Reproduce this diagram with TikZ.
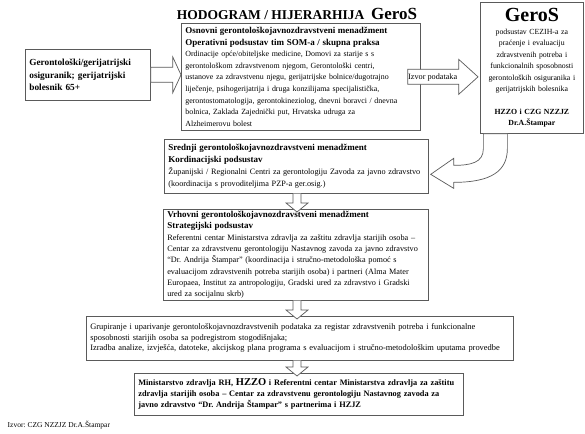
\documentclass[tikz,border=0pt]{standalone}
\usepackage{fontspec}
\setmainfont{Liberation Serif}
\usetikzlibrary{shapes,arrows,positioning,calc}
\definecolor{boxgray}{RGB}{90,90,90}
\newcommand\hodohead[1]{{\fontsize{9}{11}\selectfont\bfseries #1}}

\begin{document}
\frenchspacing
\begin{tikzpicture}[x=1pt, y=-1pt, thick, font=\fontsize{7.8}{11.5}\selectfont]
  \tikzstyle{box} = [rectangle, draw=boxgray, line width=0.7pt, anchor=north west, inner xsep=4pt, inner ysep=1pt, align=left]
  \tikzstyle{hollow} = [draw=boxgray, fill=white, line width=0.7pt]

  \useasboundingbox (0,0) rectangle (585,433);

  % title
  \node[anchor=base] (title) at (297,20) {\fontsize{13.5}{16}\selectfont\bfseries HODOGRAM / HIJERARHIJA\hspace{0.5em}{\fontsize{17}{18}\selectfont GeroS}};

  % patient
  \node[box, text width=117pt, minimum height=51pt, font=\fontsize{9.3}{12.2}\selectfont\bfseries] (pat) at (25,49)
    {Gerontološki/gerijatrijski\\ osiguranik; gerijatrijski\\ bolesnik 65+};

  % operative level
  \node[box, text width=231pt, minimum height=107pt, font=\fontsize{7.9}{11.6}\selectfont] (som) at (181,23)
    {\hodohead{Osnovni gerontološkojavnozdravstveni menadžment}\\
     \hodohead{Operativni podsustav tim SOM-a / skupna praksa}\\
     Ordinacije opće/obiteljske medicine, Domovi za starije s s\\
     gerontološkom zdravstvenom njegom, Gerontološki centri,\\
     ustanove za zdravstvenu njegu, gerijatrijske bolnice/dugotrajno\\
     liječenje, psihogerijatrija i druga konzilijama specijalistička,\\
     gerontostomatologija, gerontokineziolog, dnevni boravci / dnevna\\
     bolnica, Zaklada Zajednički put, Hrvatska udruga za\\
     Alzheimerovu bolest};

  % GeroS
  \node[box, align=center, text width=95pt, minimum height=131pt] (geros) at (480,2)
    {{\fontsize{20}{22}\selectfont\bfseries GeroS}\\[1pt]
     podsustav CEZIH-a za\\
     praćenje i evaluaciju\\
     zdravstvenih potreba i\\
     funkcionalnih sposobnosti\\
     gerontoloških osiguranika i\\
     gerijatrijskih bolesnika\\[11pt]
     \textbf{HZZO i CZG NZZJZ}\\
     \textbf{Dr.A.Štampar}};

  % coordination level
  \node[box, text width=256pt, minimum height=54pt, font=\fontsize{8.2}{12}\selectfont] (kord) at (164,139)
    {\hodohead{Srednji gerontološkojavnozdravstveni menadžment}\\
     \hodohead{Kordinacijski podsustav}\\
     Županijski / Regionalni Centri za gerontologiju Zavoda za javno zdravstvo\\
     (koordinacija s provoditeljima PZP-a ger.osig.)};

  % strategic level
  \node[box, text width=257pt, minimum height=91pt, font=\fontsize{8.2}{11.3}\selectfont] (strat) at (163,209)
    {\hodohead{Vrhovni gerontološkojavnozdravstveni menadžment}\\
     \hodohead{Strategijski podsustav}\\
     Referentni centar Ministarstva zdravlja za zaštitu zdravlja starijih osoba –\\
     Centar za zdravstvenu gerontologiju Nastavnog zavoda za javno zdravstvo\\
     “Dr. Andrija Štampar” (koordinacija i stručno-metodološka pomoć s\\
     evaluacijom zdravstvenih potreba starijih osoba) i partneri (Alma Mater\\
     Europaea, Institut za antropologiju, Gradski ured za zdravstvo i Gradski\\
     ured za socijalnu skrb)};

  % register
  \node[box, text width=419pt, minimum height=44pt, font=\fontsize{8.4}{10.5}\selectfont] (reg) at (86,316)
    {Grupiranje i uparivanje gerontološkojavnozdravstvenih podataka za registar zdravstvenih potreba i funkcionalne\\
     sposobnosti starijih osoba sa podregistrom stogodišnjaka;\\
     Izradba analize, izvješća, datoteke, akcijskog plana programa s evaluacijom i stručno-metodološkim uputama provedbe};

  % ministry
  \node[box, text width=321pt, minimum height=42pt, font=\fontsize{8.3}{11}\selectfont\bfseries] (mini) at (134,373)
    {Ministarstvo zdravlja RH, {\fontsize{10.5}{11}\selectfont HZZO} i Referentni centar Ministarstva zdravlja za zaštitu\\
     zdravlja starijih osoba – Centar za zdravstvenu gerontologiju Nastavnog zavoda za\\
     javno zdravstvo “Dr. Andrija Štampar” s partnerima i HZJZ};

  % source
  \node[anchor=west, font=\fontsize{7.5}{8}\selectfont] (izvor) at (4,425) {Izvor: CZG NZZJZ Dr.A.Štampar};

  \coordinate (axis) at (297,0);

  % patient -> operative
  \draw[hollow] ($(pat.east)+(0,-7.5)$) -- ++(22,0) -- ++(0,-10.5) -- (som.west |- pat.east)
    -- ($(pat.east)+(22,18)$) -- ++(0,-10.5) -- ($(pat.east)+(0,7.5)$) -- cycle;

  % data source
  \draw[hollow] ($(som.east)+(-13,-7.5)$) -- ($(som.east)+(38,-7.5)$) -- ($(som.east)+(38,-17.5)$)
    -- ($(geros.west |- som.east)+(-2,0)$) -- ($(som.east)+(38,17.5)$) -- ($(som.east)+(38,7.5)$)
    -- ($(som.east)+(-13,7.5)$) -- cycle;
  \node[font=\fontsize{8.2}{10}\selectfont] (podaci) at ($(som.east)+(12,0.5)$) {Izvor podataka};

  % GeroS -> coordination
  \draw[hollow] ($(geros.south)+(-48.5,0)$) -- ++(0,15) .. controls +(0,14) and +(17,0) .. ($(kord.east)+(25,-1)$)
    -- ($(kord.east)+(25,-8)$) -- ($(kord.east)+(2,8)$) -- ($(kord.east)+(25,22)$) -- ($(kord.east)+(25,16)$)
    .. controls +(38,0) and +(0,22) .. ($(geros.south)+(-24.5,15)$) -- ($(geros.south)+(-24.5,0)$) -- cycle;

  % downward flow
  \draw[hollow] ($(kord.south -| axis)+(-4,0)$) -- ($(strat.north -| axis)+(-4,-6)$) -- ++(-7,0)
    -- ($(strat.north -| axis)+(0,3)$) -- ($(strat.north -| axis)+(11,-6)$) -- ++(-7,0) -- ($(kord.south -| axis)+(4,0)$);
  \draw[hollow] ($(strat.south -| axis)+(-4,0)$) -- ($(reg.north -| axis)+(-4,-6)$) -- ++(-7,0)
    -- ($(reg.north -| axis)+(0,3)$) -- ($(reg.north -| axis)+(11,-6)$) -- ++(-7,0) -- ($(strat.south -| axis)+(4,0)$);
  \draw[hollow] ($(reg.south -| axis)+(-4,0)$) -- ($(mini.north -| axis)+(-4,-6)$) -- ++(-7,0)
    -- ($(mini.north -| axis)+(0,3)$) -- ($(mini.north -| axis)+(11,-6)$) -- ++(-7,0) -- ($(reg.south -| axis)+(4,0)$);
\end{tikzpicture}
\end{document}
